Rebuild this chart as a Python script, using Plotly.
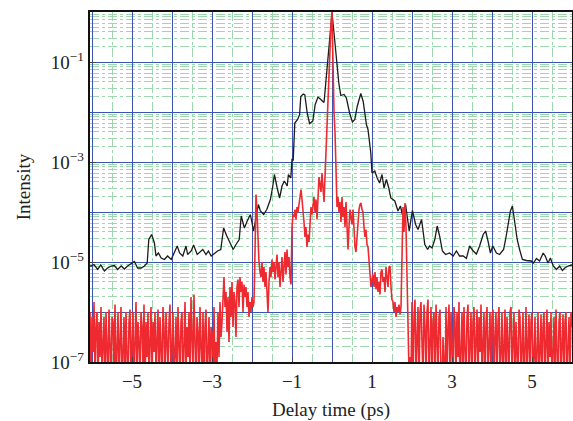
import numpy as np
import plotly.graph_objects as go

# ---------------- data ----------------
# black trace: delay (ps) and log10(intensity)
black_x = [-6.05, -6.02, -5.95, -5.86, -5.78, -5.69, -5.61, -5.52, -5.44, -5.36, -5.27, -5.19, -5.11, -5.02,
           -4.94, -4.86, -4.77, -4.69, -4.62, -4.58, -4.51, -4.44, -4.40, -4.34, -4.27, -4.19, -4.11, -4.02,
           -3.94, -3.87, -3.81, -3.73, -3.65, -3.61, -3.52, -3.46, -3.37, -3.27, -3.23, -3.15, -3.09, -3.02,
           -2.94, -2.86, -2.78, -2.71, -2.63, -2.54, -2.47, -2.40, -2.32, -2.27, -2.19, -2.12, -2.04, -1.96,
           -1.90, -1.84, -1.79, -1.71, -1.63, -1.54, -1.48, -1.44, -1.37, -1.31, -1.25, -1.19, -1.12, -1.09,
           -1.03, -1.00, -0.97, -0.93, -0.86, -0.81, -0.78, -0.72, -0.68, -0.62, -0.56, -0.48, -0.42, -0.35,
           -0.28, -0.20, -0.17, -0.12, -0.06, 0.00, 0.05, 0.11, 0.17, 0.22, 0.30, 0.36, 0.44, 0.51, 0.57,
           0.63, 0.72, 0.78, 0.83, 0.86, 0.90, 0.97, 1.00, 1.07, 1.13, 1.19, 1.25, 1.30, 1.36, 1.42, 1.47,
           1.52, 1.57, 1.65, 1.71, 1.76, 1.84, 1.93, 2.01, 2.09, 2.15, 2.24, 2.32, 2.39, 2.44, 2.50, 2.57,
           2.63, 2.69, 2.76, 2.84, 2.94, 3.03, 3.11, 3.19, 3.28, 3.36, 3.44, 3.53, 3.61, 3.69, 3.78, 3.84,
           3.90, 3.96, 4.02, 4.11, 4.19, 4.29, 4.34, 4.40, 4.46, 4.51, 4.57, 4.63, 4.69, 4.76, 4.86, 4.98,
           5.04, 5.11, 5.19, 5.28, 5.33, 5.40, 5.46, 5.53, 5.61, 5.69, 5.76, 5.82, 5.90, 6.00]
black_log10 = [-5.08, -5.08, -5.05, -5.15, -5.06, -5.18, -5.12, -5.08, -5.07, -5.15, -5.08, -5.14, -5.08, -5.04,
               -4.99, -5.12, -5.12, -5.08, -5.02, -4.55, -4.45, -4.62, -4.88, -4.82, -4.92, -4.95, -4.88, -4.95,
               -4.82, -4.68, -4.82, -4.88, -4.68, -4.85, -4.78, -4.66, -4.85, -4.78, -4.75, -4.85, -4.78, -4.88,
               -4.82, -4.78, -4.75, -4.32, -4.48, -4.62, -4.75, -4.65, -4.55, -4.08, -4.32, -4.18, -4.05, -4.38,
               -4.12, -3.85, -3.98, -4.05, -3.95, -3.75, -3.48, -3.25, -3.52, -3.72, -3.48, -3.38, -3.48, -3.25,
               -3.32, -2.95, -2.96, -2.22, -2.15, -2.05, -1.69, -1.64, -1.66, -2.02, -2.23, -2.18, -1.85, -1.70,
               -1.75, -1.81, -1.55, -1.09, -0.49, -0.02, -0.42, -0.95, -1.42, -1.67, -1.65, -1.72, -2.02, -2.20, -2.15,
               -1.89, -1.63, -1.79, -2.08, -2.25, -2.35, -2.82, -3.22, -3.18, -3.32, -3.42, -3.25, -3.52, -3.35, -3.52, -3.72,
               -3.75, -3.78, -3.98, -3.88, -4.05, -3.85, -4.38, -3.97, -4.25, -4.35, -4.15, -4.65, -4.75, -4.68, -4.72, -4.55,
               -4.28, -4.48, -4.78, -4.85, -4.82, -4.88, -4.78, -4.88, -4.88, -4.93, -4.68, -4.78, -4.84, -4.68, -4.45, -4.38,
               -4.58, -4.82, -4.68, -4.82, -4.85, -4.75, -4.55, -4.25, -3.98, -3.88, -4.18, -4.55, -4.75, -4.95, -4.97, -4.98,
               -5.02, -4.93, -4.98, -4.82, -4.88, -5.02, -4.92, -5.08, -5.15, -5.08, -5.17, -5.12, -5.08, -5.06]

# red trace, left noise floor: sampled every 0.025 ps from -6.05 ps
red_left_start, red_step = -6.05, 0.025
red_left_log10 = [
    -6.0, -7.4, -6.1, -6.8, -5.8, -7.3, -6.3, -6.0, -7.5, -6.2,
    -6.9, -5.9, -7.2, -6.4, -6.1, -7.6, -6.0, -6.7, -7.3, -5.95,
    -6.6, -7.4, -6.1, -6.2, -7.1, -5.85, -7.5, -6.5, -6.0, -7.3,
    -6.3, -5.9, -7.6, -6.8, -6.1, -7.2, -6.0, -6.9, -7.4, -6.2,
    -5.95, -7.3, -6.4, -6.0, -7.5, -6.7, -5.8, -7.2, -6.2, -6.6,
    -7.4, -6.0, -6.3, -7.1, -5.85, -7.6, -6.2, -6.9, -6.0, -7.3,
    -6.5, -5.9, -7.4, -6.2, -6.8, -6.0, -7.2, -6.4, -5.95, -7.5,
    -6.1, -6.7, -7.3, -5.9, -6.3, -7.6, -6.0, -6.6, -7.1, -6.2,
    -5.85, -7.4, -6.4, -6.0, -7.2, -6.9, -6.1, -7.5, -5.9, -6.5,
    -7.3, -6.2, -6.0, -7.6, -6.6, -5.8, -7.2, -6.3, -6.9, -6.0,
    -7.4, -5.7, -6.5, -7.1, -5.65, -6.8, -7.5, -6.1, -6.4, -7.3,
    -5.9, -6.7, -7.2, -6.0, -7.6, -6.3, -5.95, -7.4, -6.8, -6.1,
    -7.5, -6.3, -6.4, -7.6, -5.9, -7.3, -6.6, -7.1, -6.0, -6.9,
    -5.8, -6.5, -6.2]

# red trace, central structure: delay (ps) and log10(intensity)
red_mid_x = [-2.725, -2.7, -2.675, -2.65, -2.625, -2.6, -2.575, -2.55, -2.525, -2.5, -2.475, -2.45, -2.425,
             -2.4, -2.375, -2.35, -2.325, -2.3, -2.275, -2.25, -2.225, -2.2, -2.175, -2.15, -2.125, -2.1,
             -2.075, -2.05, -2.025, -2.0, -1.975, -1.95, -1.925, -1.9, -1.875, -1.85, -1.825, -1.8,
             -1.775, -1.75, -1.725, -1.7, -1.675, -1.65, -1.625, -1.6, -1.575, -1.55, -1.525, -1.5, -1.475,
             -1.45, -1.425, -1.4, -1.375, -1.35, -1.325, -1.3, -1.275, -1.25, -1.225, -1.2, -1.175, -1.15,
             -1.125, -1.1, -1.075, -1.05, -1.025, -1.0, -0.975, -0.95, -0.925, -0.9, -0.875, -0.85, -0.825,
             -0.8, -0.775, -0.75, -0.725, -0.7, -0.675, -0.65, -0.625, -0.6, -0.575, -0.55, -0.525, -0.5,
             -0.475, -0.45, -0.425, -0.4, -0.375, -0.35, -0.325, -0.3, -0.275, -0.25, -0.225, -0.2, -0.175,
             -0.15, -0.125, -0.1, -0.075, -0.05, -0.025, 0.0, 0.025, 0.05, 0.075, 0.1, 0.125, 0.15, 0.175,
             0.2, 0.225, 0.25, 0.275, 0.3, 0.325, 0.35, 0.375, 0.4, 0.425, 0.45, 0.475, 0.5, 0.525, 0.55,
             0.575, 0.6, 0.625, 0.65, 0.675, 0.7, 0.725, 0.75, 0.775, 0.8, 0.825, 0.85, 0.875, 0.9, 0.925,
             0.95, 0.975, 1.0, 1.025, 1.05, 1.075, 1.1, 1.125, 1.15, 1.175, 1.2, 1.225, 1.25, 1.275, 1.3,
             1.325, 1.35, 1.375, 1.4, 1.425, 1.45, 1.475, 1.5, 1.525, 1.55, 1.575, 1.6, 1.625, 1.65, 1.675,
             1.7, 1.725, 1.75, 1.775, 1.8, 1.825, 1.85, 1.875, 1.9, 1.925, 1.95]
red_mid_log10 = [-5.5, -5.3, -5.9, -5.6, -6.4, -5.7, -6.6, -5.5, -6.1, -5.4, -6.3, -5.6, -5.8,
                 -6.5, -5.5, -5.35, -5.9, -5.3, -5.6, -5.4, -6.0, -5.45, -5.7, -5.5, -5.9, -5.6,
                 -6.1, -5.8, -6.0, -5.7, -5.9, -5.8, -4.8, -3.65, -4.0, -4.6, -5.0, -5.2,
                 -5.3, -5.0, -5.4, -5.1, -5.5, -5.2, -5.7, -6.0, -5.4, -5.1, -5.3, -4.95, -5.2,
                 -5.0, -5.35, -5.05, -4.85, -5.3, -5.0, -5.5, -5.2, -4.9, -5.4, -5.1, -4.8, -5.25,
                 -4.75, -5.1, -4.9, -5.3, -5.45, -4.3, -4.05, -4.1, -3.95, -4.15, -3.9, -4.0, -3.8,
                 -3.6, -3.55, -3.75, -4.1, -4.2, -4.5, -4.3, -4.7, -4.45, -4.6, -4.2, -3.9, -4.05,
                 -3.85, -3.7, -4.0, -3.75, -4.15, -3.5, -3.3, -3.45, -3.6, -3.22, -3.5, -3.8, -3.3,
                 -2.8, -2.0, -1.5, -1.0, -0.6, -0.25, 0.0, -1.2, -2.0, -2.4, -3.2, -3.9, -3.7, -4.0,
                 -3.8, -4.2, -3.7, -4.1, -3.9, -4.3, -3.8, -4.5, -4.75, -4.3, -3.95, -4.1, -4.25, -3.95, -4.4,
                 -4.7, -4.8, -4.5, -4.1, -3.95, -3.85, -3.82, -3.95, -4.0, -4.3, -4.5, -4.35, -4.65, -4.7, -5.0,
                 -5.3, -5.5, -5.35, -5.25, -5.5, -5.2, -5.55, -5.3, -5.6, -5.4, -5.65, -5.2, -5.15, -5.4, -5.3,
                 -5.6, -5.1, -5.25, -5.5, -5.1, -5.08, -5.5, -5.75, -5.8, -6.0, -5.8, -6.1, -5.9, -6.0, -5.85,
                 -6.05, -5.9, -4.5, -3.9, -4.4, -3.82, -4.3, -5.5, -6.5, -7.2, -6.9]

# red trace, right noise floor: sampled every 0.025 ps from 1.975 ps
red_right_start = 1.975
red_right_log10 = [
    -7.3, -5.8, -7.5, -6.1, -5.75, -7.2, -6.4, -5.9, -7.6, -6.0,
    -5.8, -6.9, -7.4, -5.85, -6.3, -7.2, -6.0, -5.75, -7.5, -6.6,
    -5.9, -7.3, -6.2, -6.0, -7.6, -5.85, -6.8, -7.2, -6.1, -5.95,
    -7.4, -7.6, -6.5, -7.3, -7.5, -5.9, -7.2, -6.3, -5.85, -7.4,
    -6.0, -6.7, -7.5, -5.9, -6.2, -7.3, -6.0, -6.9, -5.8, -7.6,
    -6.4, -6.0, -7.2, -5.9, -6.8, -7.4, -6.1, -5.85, -7.3, -6.5,
    -6.0, -7.5, -6.2, -5.9, -7.2, -6.6, -5.95, -7.4, -6.1, -6.8,
    -5.85, -7.3, -6.3, -6.0, -7.6, -6.2, -5.9, -7.1, -6.7, -6.0,
    -7.4, -6.1, -5.95, -7.3, -6.5, -6.0, -7.5, -6.2, -5.9, -7.2,
    -6.8, -6.0, -7.4, -6.3, -5.95, -7.6, -6.1, -6.6, -7.3, -6.0,
    -5.9, -7.2, -6.4, -6.0, -7.5, -6.2, -6.8, -7.3, -5.95, -6.1,
    -7.4, -6.5, -6.0, -7.6, -6.3, -5.9, -7.2, -6.7, -6.05, -7.5,
    -6.2, -6.0, -7.3, -6.9, -6.1, -7.6, -6.4, -6.0, -7.2, -6.8,
    -6.05, -7.5, -6.3, -6.0, -7.3, -6.6, -5.95, -7.4, -6.2, -6.9,
    -6.0, -7.6, -6.4, -6.1, -7.2, -5.95, -6.8, -7.5, -6.2, -6.0,
    -7.3, -6.5, -6.05, -7.4, -6.2, -6.0, -7.6, -6.7, -6.1, -7.2,
    -6.0, -6.3]

x_ticks = [-5, -3, -1, 1, 3, 5]
x_tick_text = ["\u22125", "\u22123", "\u22121", "1", "3", "5"]
y_ticks = [1e-7, 1e-5, 1e-3, 1e-1]
y_tick_text = ["10<sup>\u22127</sup>", "10<sup>\u22125</sup>", "10<sup>\u22123</sup>", "10<sup>\u22121</sup>"]

# ---------------- assemble ----------------
red_left_x = [round(red_left_start + i * red_step, 3) for i in range(len(red_left_log10))]
red_right_x = [round(red_right_start + i * red_step, 3) for i in range(len(red_right_log10))]
red_x = red_left_x + red_mid_x + red_right_x
red_y = [10 ** v for v in (red_left_log10 + red_mid_log10 + red_right_log10)]
black_y = [10 ** v for v in black_log10]

FONT = "Liberation Serif, DejaVu Serif, serif"
BLUE = "#3d52b2"
GREEN = "#9ed6ad"
XR = [-6.05, 6.0]
YR = [-7, 0]

fig = go.Figure()
fig.add_trace(go.Scatter(x=black_x, y=black_y, mode="lines",
                         line=dict(color="#1c1c1c", width=1.3), xaxis="x", yaxis="y",
                         showlegend=False, hoverinfo="skip"))
fig.add_trace(go.Scatter(x=red_x, y=red_y, mode="lines",
                         line=dict(color="#ee2a30", width=1.6), xaxis="x2", yaxis="y2",
                         showlegend=False, hoverinfo="skip"))

fig.update_layout(
    width=573, height=421,
    margin=dict(l=90, r=1, t=12, b=59, autoexpand=False),
    paper_bgcolor="white", plot_bgcolor="white",
    font=dict(family=FONT, size=19, color="#222"),
    xaxis=dict(range=XR, showgrid=True, gridcolor=BLUE, gridwidth=1,
               tick0=0, dtick=1, showticklabels=False, ticks="", zeroline=False,
               showline=True, mirror=True, linecolor="#111", linewidth=1.5,
               minor=dict(dtick=0.5, tick0=0, showgrid=True, gridcolor=GREEN,
                          griddash="dashdot", gridwidth=1, ticks="")),
    yaxis=dict(type="log", range=YR, showgrid=True, gridcolor=BLUE, gridwidth=1,
               dtick=1, showticklabels=False, ticks="", zeroline=False,
               showline=True, mirror=True, linecolor="#111", linewidth=1.5,
               minor=dict(dtick="D1", showgrid=True, gridcolor=GREEN,
                          griddash="dashdot", gridwidth=1, ticks="")),
    xaxis2=dict(overlaying="x", range=XR, side="bottom", showgrid=False, zeroline=False,
                tickvals=x_ticks, ticktext=x_tick_text, ticks="inside", ticklen=5,
                tickcolor="#444", tickwidth=1, showline=False, ticklabelstandoff=6,
                tickfont=dict(family=FONT, size=19, color="#222"),
                title=dict(text="Delay time (ps)", standoff=11,
                           font=dict(family=FONT, size=19, color="#222"))),
    yaxis2=dict(overlaying="y", type="log", range=YR, side="left", showgrid=False,
                zeroline=False, tickvals=y_ticks, ticktext=y_tick_text, ticks="inside",
                ticklen=6, tickcolor="#444", tickwidth=1, showline=False, ticklabelstandoff=5,
                tickfont=dict(family=FONT, size=19, color="#222"),
                title=dict(text="Intensity", standoff=15,
                           font=dict(family=FONT, size=19, color="#222"))),
)

fig.write_html("out.html", config={"displayModeBar": False},
               post_script="document.body.style.margin='0';document.body.style.overflow='hidden';")
